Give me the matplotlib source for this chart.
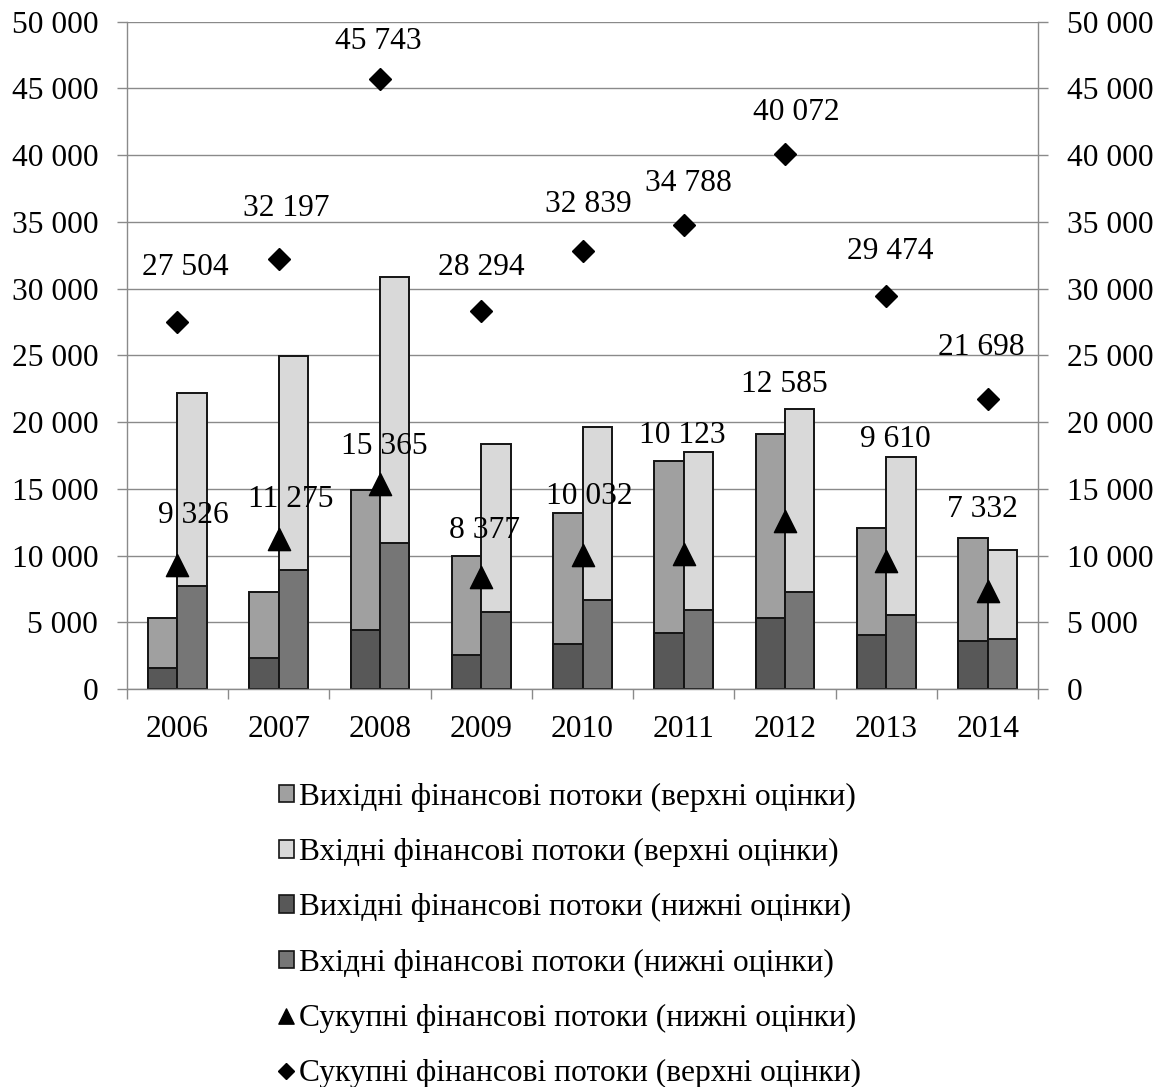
import matplotlib
matplotlib.use("Agg")
import matplotlib.pyplot as plt
from matplotlib.ticker import FuncFormatter, FixedLocator
from matplotlib.patches import Patch
from matplotlib.lines import Line2D
from matplotlib.path import Path
import numpy as np

plt.rcParams["font.family"] = ["Liberation Serif", "DejaVu Serif"]

# ---- data -------------------------------------------------------------
years = ["2006", "2007", "2008", "2009", "2010", "2011", "2012", "2013", "2014"]

out_upper = [5350, 7270, 14900, 9950, 13210, 17060, 19110, 12075, 11300]
in_upper = [22150, 24930, 30845, 18345, 19625, 17730, 20960, 17400, 10400]
out_lower = [1600, 2350, 4450, 2580, 3380, 4190, 5330, 4035, 3580]
in_lower = [7725, 8925, 10915, 5795, 6650, 5935, 7255, 5575, 3750]

total_lower = [9326, 11275, 15365, 8377, 10032, 10123, 12585, 9610, 7332]
total_upper = [27504, 32197, 45743, 28294, 32839, 34788, 40072, 29474, 21698]

series_names = [
    "Вихідні фінансові потоки (верхні оцінки)",
    "Вхідні фінансові потоки (верхні оцінки)",
    "Вихідні фінансові потоки (нижні оцінки)",
    "Вхідні фінансові потоки (нижні оцінки)",
    "Сукупні фінансові потоки (нижні оцінки)",
    "Сукупні фінансові потоки (верхні оцінки)",
]

# ---- layout / style ---------------------------------------------------
# label placement relative to its marker, in pixels (dx, dy)
upper_label_offsets = [(8, 54), (8, 51), (-2, 37), (0, 44), (6, 46),
                       (5, 41), (11, 42), (4, 44), (-6, 52)]
lower_label_offsets = [(16, 49), (12, 39), (4, 37), (3, 47), (7, 59),
                       (-1, 118), (-1, 137), (9, 121), (-5, 82)]

c_out_up = "#a0a0a0"
c_in_up = "#d9d9d9"
c_out_lo = "#585858"
c_in_lo = "#767676"
edge = "#141414"
grid_c = "#8a8a8a"
FS = 22.7

fig = plt.figure(figsize=(11.67, 10.87), dpi=100)
ax = fig.add_axes([0.1086, 0.3661, 0.7811, 0.6139])

x = np.arange(len(years))
w = 0.29
xl = x - w / 2
xr = x + w / 2

bar_kw = dict(edgecolor=edge, linewidth=1.4, zorder=2)
ax.bar(xl, out_upper, w, color=c_out_up, **bar_kw)
ax.bar(xl, out_lower, w, color=c_out_lo, **bar_kw)
ax.bar(xr, in_upper, w, color=c_in_up, **bar_kw)
ax.bar(xr, in_lower, w, color=c_in_lo, **bar_kw)

tri = Path([(-1, -1), (1, -1), (0, 1), (-1, -1)],
           [Path.MOVETO, Path.LINETO, Path.LINETO, Path.CLOSEPOLY])

ax.plot(x, total_lower, linestyle="none", marker=tri, markersize=16,
        color="black", zorder=4)
ax.plot(x, total_upper, linestyle="none", marker="D", markersize=11,
        color="black", zorder=4)


def fmt(v):
    return f"{int(round(v)):,}".replace(",", " ")


for xi, v, (dx, dy) in zip(x, total_upper, upper_label_offsets):
    ax.annotate(fmt(v), (xi, v), xytext=(dx, dy), textcoords="offset pixels",
                ha="center", va="center", fontsize=FS, zorder=6)
for xi, v, (dx, dy) in zip(x, total_lower, lower_label_offsets):
    ax.annotate(fmt(v), (xi, v), xytext=(dx, dy), textcoords="offset pixels",
                ha="center", va="center", fontsize=FS, zorder=6)

# ---- axes -------------------------------------------------------------
ax.set_xlim(-0.5, len(years) - 0.5)
ax.set_ylim(0, 50000)
yt = np.arange(0, 50001, 5000)
ax.set_yticks(yt)
ax.yaxis.set_major_formatter(FuncFormatter(lambda v, p: fmt(v)))
ax.yaxis.grid(True, color=grid_c, linewidth=1.0, zorder=0)
ax.set_axisbelow(True)

ax.set_xticks(x)
ax.set_xticklabels(years)
ax.xaxis.set_minor_locator(FixedLocator(np.arange(-0.5, len(years), 1.0)))
ax.tick_params(axis="x", which="major", length=0, pad=19, labelsize=FS)
ax.tick_params(axis="x", which="minor", length=7, width=1.0, color=grid_c,
               direction="out")
ax.tick_params(axis="y", length=7, width=1.0, color=grid_c, pad=13.5,
               labelsize=FS)

for s in ["top", "right"]:
    ax.spines[s].set_visible(False)
for s in ["left", "bottom"]:
    ax.spines[s].set_color(grid_c)
    ax.spines[s].set_linewidth(1.0)

ax2 = ax.twinx()
ax2.set_ylim(0, 50000)
ax2.set_yticks(yt)
ax2.yaxis.set_major_formatter(FuncFormatter(lambda v, p: fmt(v)))
ax2.tick_params(axis="y", length=7, width=1.0, color=grid_c, pad=13.5,
                labelsize=FS)
for s in ["top", "left", "bottom"]:
    ax2.spines[s].set_visible(False)
ax2.spines["right"].set_color(grid_c)
ax2.spines["right"].set_linewidth(1.0)

# ---- legend -----------------------------------------------------------
handles = [
    Patch(facecolor=c_out_up, edgecolor=edge, linewidth=1.2),
    Patch(facecolor=c_in_up, edgecolor=edge, linewidth=1.2),
    Patch(facecolor=c_out_lo, edgecolor=edge, linewidth=1.2),
    Patch(facecolor=c_in_lo, edgecolor=edge, linewidth=1.2),
    Line2D([], [], linestyle="none", marker=tri, markersize=11, color="black"),
    Line2D([], [], linestyle="none", marker="D", markersize=8, color="black"),
]
fig.legend(handles, series_names, loc="upper left",
           bbox_to_anchor=(0.239, 0.280), frameon=False, fontsize=FS,
           handlelength=0.48, handleheight=0.48, handletextpad=0.15,
           labelspacing=0.83, borderpad=0, borderaxespad=0)

fig.savefig("out.png", dpi=100)
